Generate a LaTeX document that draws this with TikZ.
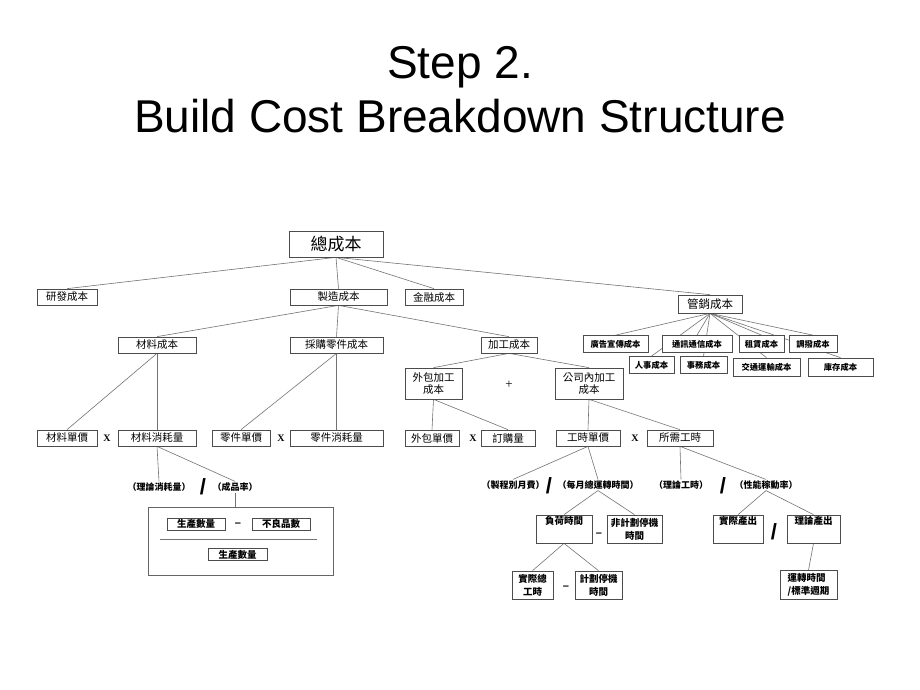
\documentclass[tikz,border=0pt]{standalone}
\usepackage{fontspec}
\setmainfont{Liberation Serif}
\newfontfamily\titlefont{Liberation Sans}
\newfontfamily\cjk{Noto Sans CJK TC}
\usetikzlibrary{backgrounds}

\begin{document}
\begin{tikzpicture}[%
      x=1pt, y=-1pt,
      box/.style={draw=black!70, fill=white, line width=0.7pt, inner sep=1pt, align=center, font=\cjk\fontsize{10.5}{12.5}\selectfont},
      mbox/.style={box, font=\cjk\bfseries\fontsize{8.3}{10}\selectfont},
      bbox/.style={box, font=\cjk\bfseries\fontsize{9.5}{13}\selectfont},
      note/.style={inner sep=1pt, font=\cjk\bfseries\fontsize{9}{11}\selectfont},
      times/.style={inner sep=0pt, font=\bfseries\fontsize{10}{12}\selectfont},
      oper/.style={inner sep=0pt, font=\titlefont\bfseries\fontsize{11}{12}\selectfont},
      slash/.style={inner sep=0pt, font=\titlefont\bfseries\fontsize{22}{22}\selectfont},
      link/.style={draw=black!55, line width=0.6pt},
      ]
      \useasboundingbox (0,0) rectangle (920,690);

      \node[anchor=base, font=\titlefont\fontsize{46}{50}\selectfont] (title1) at (460,79) {Step 2.};
      \node[anchor=base, font=\titlefont\fontsize{46}{50}\selectfont] (title2) at (460,132) {Build Cost Breakdown Structure};

      % top levels
      \node[box, minimum width=94, minimum height=26, font=\cjk\fontsize{17}{19}\selectfont] (total) at (336,244) {總成本};
      \node[box, minimum width=60, minimum height=16] (rd) at (67,297) {研發成本};
      \node[box, minimum width=97, minimum height=16] (mfg) at (338.5,297) {製造成本};
      \node[box, minimum width=58, minimum height=16] (fin) at (434,297) {金融成本};
      \node[box, minimum width=64, minimum height=18, font=\cjk\fontsize{11.5}{13}\selectfont] (mkt) at (710,304) {管銷成本};

      \node[box, minimum width=78, minimum height=16] (mat) at (157,345) {材料成本};
      \node[box, minimum width=93, minimum height=16] (part) at (336.5,345) {採購零件成本};
      \node[box, minimum width=56, minimum height=16] (proc) at (509,345) {加工成本};
      \node[box, minimum width=57, minimum height=31] (outs) at (433.5,383.5) {外包加工\\成本};
      \node[oper, font=\fontsize{13}{14}\selectfont] (plus) at (509,385) {+};
      \node[box, minimum width=68, minimum height=31] (inh) at (589,383.5) {公司內加工\\成本};

      \node[box, minimum width=60, minimum height=16] (matprice) at (67,438) {材料單價};
      \node[times] (x1) at (107,438) {X};
      \node[box, minimum width=78, minimum height=16] (matuse) at (157,438) {材料消耗量};
      \node[box, minimum width=58, minimum height=16] (partprice) at (241,438) {零件單價};
      \node[times] (x2) at (281,438) {X};
      \node[box, minimum width=93, minimum height=16] (partuse) at (336.5,438) {零件消耗量};
      \node[box, minimum width=54, minimum height=16] (outprice) at (432,438) {外包單價};
      \node[times] (x3) at (473,438) {X};
      \node[box, minimum width=54, minimum height=16] (order) at (508,438) {訂購量};
      \node[box, minimum width=64, minimum height=16] (hrprice) at (588,438) {工時單價};
      \node[times] (x4) at (635,438) {X};
      \node[box, minimum width=66, minimum height=16] (hours) at (680,438) {所需工時};

      % marketing
      \node[mbox, minimum width=65, minimum height=17] (ad) at (615.5,344) {廣告宣傳成本};
      \node[mbox, minimum width=70, minimum height=17] (comm) at (697,344) {通訊通信成本};
      \node[mbox, minimum width=45, minimum height=17] (lease) at (761.5,344) {租賃成本};
      \node[mbox, minimum width=48, minimum height=17] (alloc) at (813,344) {調撥成本};
      \node[mbox, minimum width=45, minimum height=17] (hr) at (651.5,365) {人事成本};
      \node[mbox, minimum width=47, minimum height=17] (admin) at (703.5,365) {事務成本};
      \node[mbox, minimum width=67, minimum height=18] (trans) at (766.5,367) {交通運輸成本};
      \node[mbox, minimum width=65, minimum height=18] (stock) at (840.5,367) {庫存成本};

      % yield
      \node[note] (theo) at (159,487) {（理論消耗量）};
      \node[slash] (sl1) at (203,487) {/};
      \node[note] (yield) at (235,487) {（成品率）};
      \node[draw=black!60, line width=0.7pt, minimum width=185, minimum height=68] (yieldbox) at (240.5,541) {};
      \node[bbox, minimum width=58, minimum height=12, inner sep=0.5pt] (prod1) at (196,524) {生產數量};
      \node[oper] (m1) at (238,525) {–};
      \node[bbox, minimum width=58, minimum height=12, inner sep=0.5pt] (defect) at (281,524) {不良品數};
      \draw[link] (160,539) -- (317,539);
      \node[bbox, minimum width=59, minimum height=12, inner sep=0.5pt] (prod2) at (237.5,554.5) {生產數量};

      % hours
      \node[note] (monthly) at (513,485) {（製程別月費）};
      \node[slash] (sl2) at (549,486) {/};
      \node[note] (runtime) at (598,485) {（每月總運轉時間）};
      \node[note] (theohr) at (681,485) {（理論工時）};
      \node[slash] (sl3) at (723,486) {/};
      \node[note] (perf) at (766,485) {（性能稼動率）};

      \node[bbox, minimum width=56, minimum height=28] (load) at (564,529) {負荷時間\\\strut};
      \node[oper] (m2) at (599,535) {–};
      \node[bbox, minimum width=55, minimum height=28] (unplanned) at (634.5,529) {非計劃停機\\時間};
      \node[bbox, minimum width=41, minimum height=28] (actual) at (532.5,585) {實際總\\工時};
      \node[oper] (m3) at (566,588) {–};
      \node[bbox, minimum width=47, minimum height=28] (planned) at (598.5,585) {計劃停機\\時間};
      \node[bbox, minimum width=50, minimum height=28] (actout) at (738,529) {實際產出\\\strut};
      \node[slash] (sl4) at (774,532) {/};
      \node[bbox, minimum width=53, minimum height=28] (theoout) at (813.5,529) {理論產出\\\strut};
      \node[bbox, minimum width=57, minimum height=29, align=left] (cycle) at (808.5,585) {運轉時間\\/標準週期};

      \begin{scope}[on background layer]
      \fill[white] (0,0) rectangle (920,690);
      \draw[link] (total.south) -- (rd.north);
      \draw[link] (total.south) -- (mfg.north);
      \draw[link] (total.south) -- (fin.north);
      \draw[link] (total.south) -- (mkt.north);
      \draw[link] (mfg.south) -- (mat.north);
      \draw[link] (mfg.south) -- (part.north);
      \draw[link] (mfg.south) -- (proc.north);
      \draw[link] (mkt.south) -- (ad.north);
      \draw[link] (mkt.south) -- (comm.north);
      \draw[link] (mkt.south) -- (hr.north);
      \draw[link] (mkt.south) -- (admin.north);
      \draw[link] (mkt.south) -- (lease.north);
      \draw[link] (mkt.south) -- (trans.north);
      \draw[link] (mkt.south) -- (alloc.north);
      \draw[link] (mkt.south) -- (stock.north);
      \draw[link] (mat.south) -- (matprice.north);
      \draw[link] (mat.south) -- (matuse.north);
      \draw[link] (part.south) -- (partprice.north);
      \draw[link] (part.south) -- (partuse.north);
      \draw[link] (proc.south) -- (outs.north);
      \draw[link] (proc.south) -- (inh.north);
      \draw[link] (outs.south) -- (outprice.north);
      \draw[link] (outs.south) -- (order.north);
      \draw[link] (inh.south) -- (hrprice.north);
      \draw[link] (inh.south) -- (hours.north);
      \draw[link] (matuse.south) -- (theo.north);
      \draw[link] (matuse.south) -- (yield.north);
      \draw[link] (yield.south) -- (yieldbox.north -| yield.south);
      \draw[link] (hrprice.south) -- (monthly.north);
      \draw[link] (hrprice.south) -- (runtime.north);
      \draw[link] (hours.south) -- (theohr.north);
      \draw[link] (hours.south) -- (perf.north);
      \draw[link] (runtime.south) -- (load.north);
      \draw[link] (runtime.south) -- (unplanned.north);
      \draw[link] (load.south) -- (actual.north);
      \draw[link] (load.south) -- (planned.north);
      \draw[link] (perf.south) -- (actout.north);
      \draw[link] (perf.south) -- (theoout.north);
      \draw[link] (theoout.south) -- (cycle.north);
      \end{scope}
\end{tikzpicture}
\end{document}
